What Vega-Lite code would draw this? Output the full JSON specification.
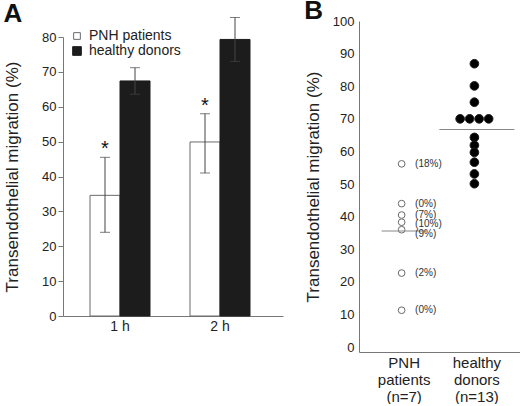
{
  "$schema": "https://vega.github.io/schema/vega-lite/v6.json",
  "padding": {"left": 3, "top": -3, "right": 0, "bottom": 0},
  "spacing": 21,
  "config": {
    "font": "Liberation Sans",
    "view": {"stroke": null},
    "axis": {
      "grid": false,
      "domainColor": "#777",
      "tickColor": "#777",
      "labelColor": "#222",
      "titleColor": "#222",
      "labelFont": "Liberation Sans",
      "titleFont": "Liberation Sans",
      "titleFontWeight": "normal",
      "labelOverlap": false
    },
    "title": {"font": "Liberation Sans", "color": "#111"}
  },
  "hconcat": [
    {
      "width": 220,
      "height": 295,
      "title": {"text": "A", "anchor": "start", "frame": "bounds", "fontSize": 26, "fontWeight": "bold", "offset": -27.5},
      "data": {
        "values": [
          {"time": "1 h", "group": "PNH patients", "mean": 34.6, "lo": 24.0, "hi": 45.5, "star": "*"},
          {"time": "1 h", "group": "healthy donors", "mean": 67.4, "lo": 63.6, "hi": 71.2, "star": ""},
          {"time": "2 h", "group": "PNH patients", "mean": 49.9, "lo": 41.0, "hi": 58.0, "star": "*"},
          {"time": "2 h", "group": "healthy donors", "mean": 79.3, "lo": 73.0, "hi": 85.6, "star": ""}
        ]
      },
      "encoding": {
        "x": {
          "field": "time", "type": "nominal",
          "scale": {"paddingInner": 0.4, "paddingOuter": 0.3, "align": 0.45},
          "axis": {"title": null, "labelAngle": 0, "ticks": false, "labelFontSize": 14, "labelPadding": 3}
        },
        "xOffset": {"field": "group", "type": "nominal", "sort": ["PNH patients", "healthy donors"], "scale": {"paddingInner": 0, "paddingOuter": 0}}
      },
      "layer": [
        {
          "mark": {"type": "bar", "strokeWidth": 1},
          "encoding": {
            "y": {
              "field": "mean", "type": "quantitative",
              "scale": {"domain": [0, 80], "nice": false, "range": [295, 16]},
              "axis": {
                "title": "Transendothelial migration (%)", "titleFontSize": 17, "titlePadding": 20,
                "values": [0, 10, 20, 30, 40, 50, 60, 70, 80], "tickCount": 9, "tickSize": 5, "labelPadding": 2, "labelFontSize": 13
              }
            },
            "color": {
              "field": "group", "type": "nominal",
              "scale": {"domain": ["PNH patients", "healthy donors"], "range": ["#ffffff", "#1c1c1c"]},
              "legend": {
                "title": null, "orient": "none", "legendX": 7, "legendY": 8, "padding": 0,
                "symbolType": "square", "symbolSize": 60, "symbolStrokeWidth": 1,
                "labelFontSize": 14, "labelColor": "#222", "rowPadding": 1, "labelOffset": 5
              }
            },
            "stroke": {
              "field": "group", "type": "nominal",
              "scale": {"domain": ["PNH patients", "healthy donors"], "range": ["#6a6a6a", "#1c1c1c"]},
              "legend": {
                "title": null, "orient": "none", "legendX": 7, "legendY": 8, "padding": 0,
                "symbolType": "square", "symbolSize": 60, "symbolStrokeWidth": 1,
                "labelFontSize": 14, "labelColor": "#222", "rowPadding": 1, "labelOffset": 5
              }
            }
          }
        },
        {
          "mark": {"type": "rule", "color": "#444", "strokeWidth": 1},
          "encoding": {"y": {"field": "lo", "type": "quantitative"}, "y2": {"field": "hi"}}
        },
        {
          "mark": {"type": "tick", "color": "#444", "size": 10, "thickness": 1, "orient": "horizontal"},
          "encoding": {"y": {"field": "hi", "type": "quantitative"}}
        },
        {
          "mark": {"type": "tick", "color": "#444", "size": 10, "thickness": 1, "orient": "horizontal"},
          "encoding": {"y": {"field": "lo", "type": "quantitative"}}
        },
        {
          "mark": {"type": "text", "fontSize": 20, "color": "#111", "baseline": "alphabetic", "dy": -2},
          "encoding": {"y": {"field": "hi", "type": "quantitative"}, "text": {"field": "star"}}
        }
      ]
    },
    {
      "width": 163,
      "height": 331,
      "title": {"text": "B", "anchor": "start", "frame": "bounds", "fontSize": 26, "fontWeight": "bold", "offset": -8.5},
      "data": {
        "values": [
          {"group": "PNH patients", "value": 56.2, "pct": "(18%)"},
          {"group": "PNH patients", "value": 44.0, "pct": "(0%)"},
          {"group": "PNH patients", "value": 40.5, "pct": "(7%)"},
          {"group": "PNH patients", "value": 38.3, "pct": "(10%)"},
          {"group": "PNH patients", "value": 36.0, "pct": "(9%)"},
          {"group": "PNH patients", "value": 22.7, "pct": "(2%)"},
          {"group": "PNH patients", "value": 11.3, "pct": "(0%)"},
          {"group": "healthy donors", "value": 86.9, "pct": ""},
          {"group": "healthy donors", "value": 80.1, "pct": ""},
          {"group": "healthy donors", "value": 75.1, "pct": ""},
          {"group": "healthy donors", "value": 70.0, "pct": ""},
          {"group": "healthy donors", "value": 70.0, "pct": ""},
          {"group": "healthy donors", "value": 70.0, "pct": ""},
          {"group": "healthy donors", "value": 70.0, "pct": ""},
          {"group": "healthy donors", "value": 64.3, "pct": ""},
          {"group": "healthy donors", "value": 61.9, "pct": ""},
          {"group": "healthy donors", "value": 59.7, "pct": ""},
          {"group": "healthy donors", "value": 56.7, "pct": ""},
          {"group": "healthy donors", "value": 53.1, "pct": ""},
          {"group": "healthy donors", "value": 50.1, "pct": ""}
        ]
      },
      "encoding": {
        "x": {
          "field": "group", "type": "nominal", "sort": ["PNH patients", "healthy donors"],
          "scale": {"paddingInner": 0, "paddingOuter": 0.12},
          "axis": {
            "title": null, "labelAngle": 0, "ticks": false, "labelFontSize": 15, "labelPadding": 3,
            "labelLineHeight": 17, "labelBaseline": "top",
            "labelExpr": "datum.label == 'PNH patients' ? ['PNH', 'patients', '(n=7)'] : ['healthy', 'donors', '(n=13)']"
          }
        }
      },
      "layer": [
        {
          "transform": [
            {"window": [{"op": "row_number", "as": "k"}], "groupby": ["group", "value"]},
            {"joinaggregate": [{"op": "count", "as": "n"}], "groupby": ["group", "value"]},
            {"calculate": "datum.k - (datum.n + 1) / 2", "as": "slot"}
          ],
          "mark": {"type": "point", "shape": "circle", "strokeWidth": 1, "opacity": 1},
          "encoding": {
            "y": {
              "field": "value", "type": "quantitative",
              "scale": {"domain": [-1.5, 100], "nice": false},
              "axis": {
                "title": "Transendothelial migration (%)", "titleFontSize": 17, "titlePadding": 10,
                "values": [0, 10, 20, 30, 40, 50, 60, 70, 80, 90, 100], "tickCount": 11, "ticks": false, "labelPadding": 5, "labelFontSize": 13
              }
            },
            "xOffset": {"field": "slot", "type": "quantitative", "scale": {"domain": [-2, 2], "range": [14.9, 52.9]}},
            "fill": {
              "field": "group", "type": "nominal",
              "scale": {"domain": ["PNH patients", "healthy donors"], "range": ["#ffffff", "#000000"]},
              "legend": null
            },
            "stroke": {
              "field": "group", "type": "nominal",
              "scale": {"domain": ["PNH patients", "healthy donors"], "range": ["#555555", "#000000"]},
              "legend": null
            },
            "size": {
              "field": "group", "type": "ordinal",
              "scale": {"domain": ["PNH patients", "healthy donors"], "range": [45, 75]},
              "legend": null
            }
          }
        },
        {
          "mark": {"type": "tick", "color": "#888", "thickness": 1, "orient": "horizontal"},
          "encoding": {
            "y": {"aggregate": "mean", "field": "value", "type": "quantitative"},
            "size": {
              "field": "group", "type": "ordinal",
              "scale": {"domain": ["PNH patients", "healthy donors"], "range": [21, 33]},
              "legend": null
            }
          }
        },
        {
          "transform": [{"filter": "datum.pct != '' && datum.pct != '(9%)' && datum.pct != '(10%)'"}],
          "mark": {"type": "text", "align": "left", "dx": 11, "fontSize": 10, "color": "#333"},
          "encoding": {
            "y": {"field": "value", "type": "quantitative"},
            "text": {"field": "pct"}
          }
        },
        {
          "transform": [{"filter": "datum.pct == '(10%)'"}],
          "mark": {"type": "text", "align": "left", "dx": 11, "dy": 1.5, "fontSize": 10, "color": "#333"},
          "encoding": {
            "y": {"field": "value", "type": "quantitative"},
            "text": {"field": "pct"}
          }
        },
        {
          "transform": [{"filter": "datum.pct == '(9%)'"}],
          "mark": {"type": "text", "align": "left", "dx": 11, "dy": 4, "fontSize": 10, "color": "#333"},
          "encoding": {
            "y": {"field": "value", "type": "quantitative"},
            "text": {"field": "pct"}
          }
        }
      ]
    }
  ]
}
